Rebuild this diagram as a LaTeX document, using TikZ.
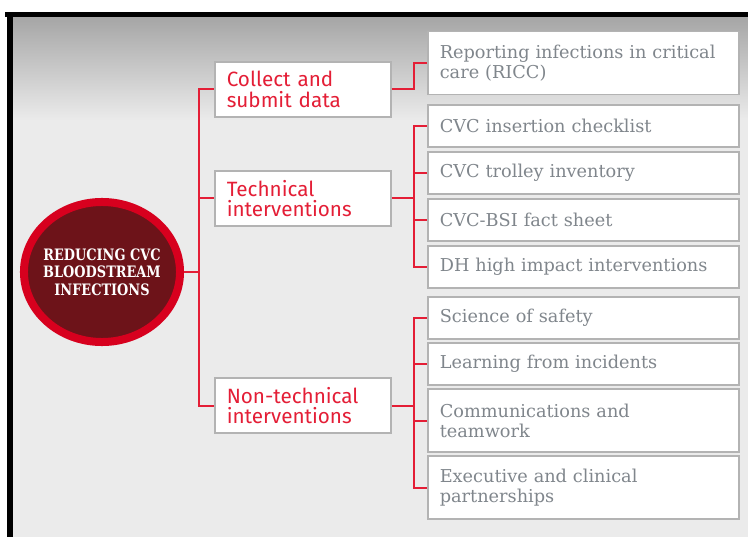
\documentclass[tikz,border=0pt]{standalone}
\usepackage{fontspec}
\usetikzlibrary{shapes.geometric}
\setmainfont{DejaVu Serif}
\newfontfamily\headfont{Fira Sans}
\newfontfamily\goalfont{DejaVu Serif}[FakeStretch=0.82]
\definecolor{cvcred}{HTML}{E41E36}
\definecolor{ringred}{HTML}{D7001E}
\definecolor{darkred}{HTML}{6D1319}
\definecolor{boxgray}{HTML}{B3B3B3}
\definecolor{leafgray}{HTML}{80868C}
\definecolor{bggray}{HTML}{EBEBEB}
\begin{document}
\begin{tikzpicture}[x=0.025cm,y=-0.025cm,
    link/.style={draw=cvcred,line width=0.05cm},
    headbox/.style={draw=boxgray,line width=0.04cm,fill=white,anchor=west,minimum height=1.375cm,text width=3.8cm,inner xsep=0.3cm,align=left,text=cvcred,font=\headfont\fontsize{14.7}{14.8}\selectfont},
    leafbox/.style={draw=boxgray,line width=0.04cm,fill=white,anchor=west,minimum height=1.05cm,text width=7.175cm,inner xsep=0.3cm,align=left,text=leafgray,font=\fontsize{12.6}{14.2}\selectfont},
    tall/.style={minimum height=1.575cm}]
    \useasboundingbox (0,0) rectangle (748,537);
    \fill[white] (0,0) rectangle (748,537);
    \fill[bggray] (13,17) rectangle (748,537); % background
    \shade[top color=gray!70, bottom color=bggray] (13,17) rectangle (748,120);
    \fill[black] (5,12) rectangle (748,17); % frame
    \fill[black] (7,12) rectangle (13,537);

    \node[ellipse,draw=ringred,line width=0.2cm,fill=darkred,inner sep=0pt,minimum width=3.9cm,minimum height=3.5cm] (goal) at (102,272) {};
    \node[align=center,text=white,font=\goalfont\bfseries\fontsize{11.2}{12.4}\selectfont] at (goal) {REDUCING CVC\\BLOODSTREAM\\INFECTIONS};

    \node[headbox] (collect) at (214,89.5) {Collect and\\submit data};
    \node[headbox] (tech) at (214,198.5) {Technical\\interventions};
    \node[headbox] (nontech) at (214,405.5) {Non-technical\\interventions};

    \node[leafbox,tall] (ricc) at (427,63) {Reporting infections in critical\\care (RICC)};
    \node[leafbox] (chk) at (427,126) {CVC insertion checklist};
    \node[leafbox] (trol) at (427,173) {CVC trolley inventory};
    \node[leafbox] (fact) at (427,220) {CVC-BSI fact sheet};
    \node[leafbox] (dh) at (427,267) {DH high impact interventions};
    \node[leafbox] (safe) at (427,318) {Science of safety};
    \node[leafbox] (learn) at (427,364) {Learning from incidents};
    \node[leafbox,tall] (comm) at (427,420.5) {Communications and\\teamwork};
    \node[leafbox,tall] (exec) at (427,487.5) {Executive and clinical\\partnerships};

    \coordinate (trunk) at (199,272);
    \draw[link] (goal.east) -- (trunk); % trunk
    \foreach \n in {collect,tech,nontech}
        \draw[link] (trunk) |- (\n.west);
    \draw[link] (collect.east) -- ++(22,0) |- (ricc.west);
    \draw[link] (tech.east) -- ++(22,0) coordinate (tbus);
    \foreach \n in {chk,trol,fact,dh}
        \draw[link] (tbus) |- (\n.west);
    \draw[link] (nontech.east) -- ++(22,0) coordinate (nbus);
    \foreach \n in {safe,learn,comm,exec}
        \draw[link] (nbus) |- (\n.west);
\end{tikzpicture}
\end{document}
